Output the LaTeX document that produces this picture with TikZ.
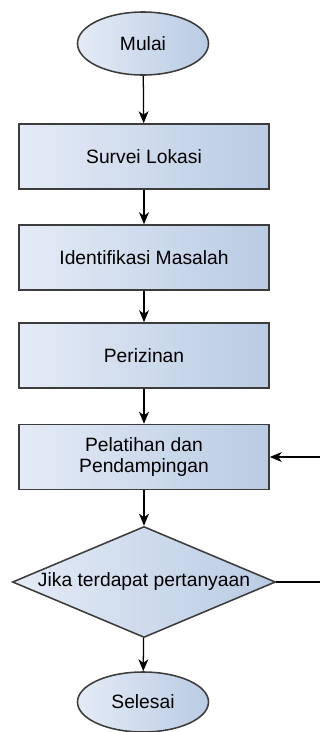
\documentclass[tikz,border=0pt]{standalone}
\usepackage{fontspec}
\setmainfont{Liberation Sans}
\usetikzlibrary{shapes.geometric, arrows.meta}

\definecolor{boxLight}{HTML}{E4EBF6}
\definecolor{boxDark}{HTML}{B9CBE3}
\definecolor{boxLine}{HTML}{3C3C3C}

\tikzset{
    flowbase/.style={
        draw=boxLine, line width=1.1pt,
        left color=boxLight, right color=boxDark,
        font=\fontsize{13.7}{15.6}\selectfont, align=center
    },
    terminal/.style={flowbase, ellipse, inner sep=0pt,
        minimum width=3.275cm, minimum height=1.575cm},
    process/.style={flowbase, rectangle, inner sep=0pt,
        minimum width=6.25cm, minimum height=1.625cm},
    decision/.style={flowbase, diamond, inner sep=0pt, aspect=2.37,
        minimum width=6.575cm, minimum height=2.775cm},
    flowarrow/.style={draw=black, line width=0.9pt,
        -{Stealth[length=8.5pt, width=7pt, inset=2.5pt]}}
}

\begin{document}
\begin{tikzpicture}[x=0.025cm, y=-0.025cm]

% Fix the page to the reference size (units are reference pixels)
\useasboundingbox (0,0) rectangle (320,732);

% --- Start and end ---
\node[terminal] (mulai) at (143,43.5) {Mulai};
\node[terminal, minimum height=1.5cm] (selesai) at (143,702) {Selesai};

% --- Process steps ---
\node[process] (survei) at (144,156.5) {Survei Lokasi};
\node[process] (identifikasi) at (144,257.5) {Identifikasi Masalah};
\node[process] (perizinan) at (144,355.5) {Perizinan};
\node[process] (pelatihan) at (144,457) {Pelatihan dan\\Pendampingan};

% --- Decision ---
\node[decision] (tanya) at (144,582) {Jika terdapat pertanyaan};

% --- Connectors ---
\draw[flowarrow] (mulai) -- (survei);
\draw[flowarrow] (survei) -- (identifikasi);
\draw[flowarrow] (identifikasi) -- (perizinan);
\draw[flowarrow] (perizinan) -- (pelatihan);
\draw[flowarrow] (pelatihan) -- (tanya);
\draw[flowarrow] (tanya) -- (selesai);

% Loop back (its vertical part lies just past the right edge)
\coordinate (balik) at (326,520);
\draw[flowarrow] (tanya.east) -| (balik) |- (pelatihan.east);

\end{tikzpicture}
\end{document}
